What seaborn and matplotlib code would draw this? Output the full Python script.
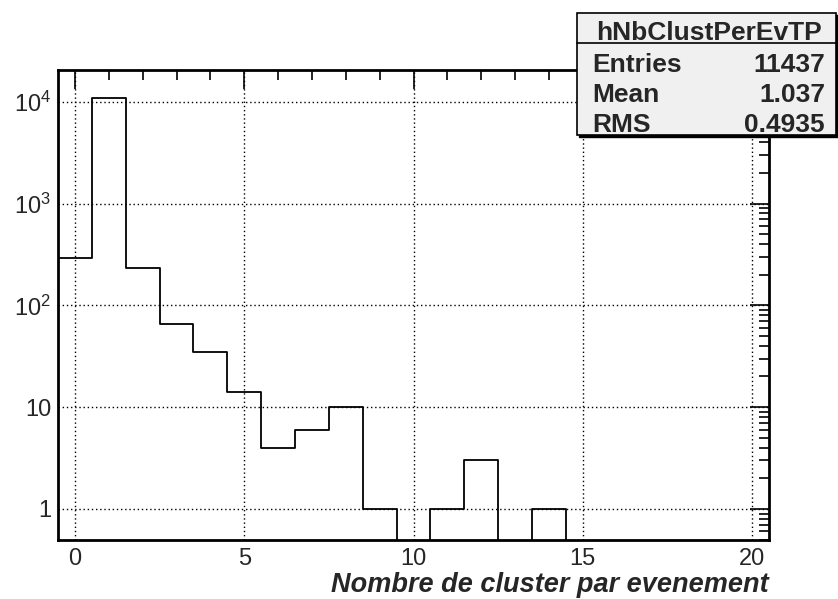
import numpy as np
import pandas as pd
import matplotlib
matplotlib.use("Agg")
import matplotlib.pyplot as plt
import seaborn as sns
from matplotlib.patches import Rectangle
from matplotlib.lines import Line2D
from matplotlib.ticker import FixedLocator, FixedFormatter, MultipleLocator, LogLocator, NullFormatter

# ---- data ----
bin_centers = list(range(21))
counts = [290, 10772, 235, 65, 35, 14, 4, 6, 10, 1, 0, 1, 3, 0, 1, 0, 0, 0, 0, 0, 0]
ytick_vals = [1, 10, 100, 1000, 10000]
ytick_labels = ["1", "10", "$10^{2}$", "$10^{3}$", "$10^{4}$"]
xtick_vals = [0, 5, 10, 15, 20]
xtick_labels = ["0", "5", "10", "15", "20"]
stats_title = "hNbClustPerEvTP"
stats_names = ["Entries", "Mean", "RMS"]
stats_values = ["11437", "1.037", "0.4935"]
xlabel = "Nombre de cluster par evenement"

sns.set_style("white")
plt.rcParams['font.family'] = ['Liberation Sans', 'DejaVu Sans']
plt.rcParams['mathtext.fontset'] = 'custom'
plt.rcParams['mathtext.rm'] = 'Liberation Sans'
plt.rcParams['mathtext.it'] = 'Liberation Sans:italic'
plt.rcParams['mathtext.bf'] = 'Liberation Sans:bold'

W, H = 838, 599
fig = plt.figure(figsize=(W / 100, H / 100), dpi=100)
ax = fig.add_axes([58 / W, 59 / H, 711 / W, 470 / H])
ax.set_yscale("log")

df = pd.DataFrame({"x": bin_centers, "n": counts})
sns.histplot(data=df, x="x", weights="n", discrete=True,
             element="step", fill=False, color="black", linewidth=1.3, ax=ax)

ax.set_xlim(-0.5, 20.5)
ax.set_ylim(0.495, 20500)
ax.set_xlabel("")
ax.set_ylabel("")

ax.xaxis.set_major_locator(FixedLocator(xtick_vals))
ax.xaxis.set_major_formatter(FixedFormatter(xtick_labels))
ax.xaxis.set_minor_locator(MultipleLocator(1))
ax.yaxis.set_major_locator(FixedLocator(ytick_vals))
ax.yaxis.set_major_formatter(FixedFormatter(ytick_labels))
ax.yaxis.set_minor_locator(LogLocator(base=10, subs=np.arange(2, 10)))
ax.yaxis.set_minor_formatter(NullFormatter())

ax.tick_params(which="major", direction="in", length=14, width=1.2, color="black",
               top=True, right=True, labelsize=17, pad=5)
ax.tick_params(which="minor", direction="in", length=7, width=1.2, color="black",
               top=True, right=True)
ax.tick_params(axis="x", which="major", pad=6)

ax.grid(which="major", linestyle=(0, (1, 2)), color="black", linewidth=1.0)
ax.grid(which="minor", visible=False)
for s in ax.spines.values():
    s.set_color("black")
    s.set_linewidth(2)

fig.text(769 / W, 1 - 592 / H, xlabel, ha="right", va="baseline",
         weight="bold", style="italic", size=19.5)

# ---- stats box ----
def fx(px):
    return px / W

def fy(py):
    return 1 - py / H

bx0, bx1, by0, by1 = 577, 836, 13, 135
shadow = Rectangle((fx(bx0 + 2), fy(by1 + 2)), fx(bx1 - bx0), (by1 - by0) / H,
                   transform=fig.transFigure, facecolor="black", edgecolor="black", zorder=10)
box = Rectangle((fx(bx0), fy(by1)), fx(bx1 - bx0), (by1 - by0) / H,
                transform=fig.transFigure, facecolor="#f0f0f0", edgecolor="black",
                linewidth=1.2, zorder=11)
fig.add_artist(shadow)
fig.add_artist(box)
fig.add_artist(Line2D([fx(bx0), fx(bx1)], [fy(43), fy(43)], transform=fig.transFigure,
                      color="black", linewidth=1.2, zorder=12))
fig.text(fx((bx0 + bx1) / 2 + 2), fy(40), stats_title, ha="center", va="baseline",
         weight="bold", size=19, zorder=13)
row_y = [72, 102, 132]
for name, val, yy in zip(stats_names, stats_values, row_y):
    fig.text(fx(592), fy(yy), name, ha="left", va="baseline", weight="bold", size=19, zorder=13)
    fig.text(fx(825), fy(yy), val, ha="right", va="baseline", weight="bold", size=19, zorder=13)

fig.savefig("out.png", dpi=100)
